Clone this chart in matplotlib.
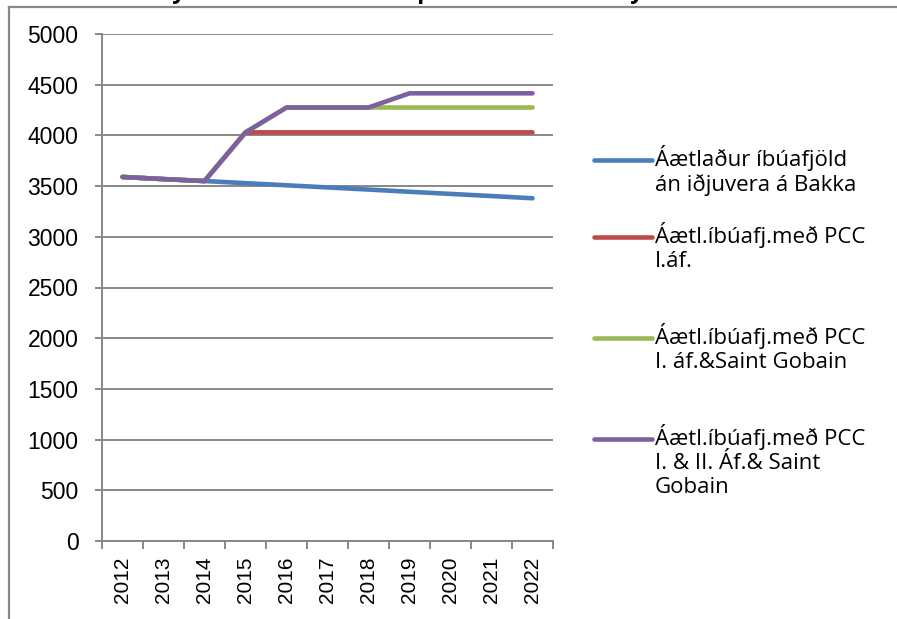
import numpy as np
import matplotlib
matplotlib.use('Agg')
import matplotlib.pyplot as plt
from matplotlib.lines import Line2D

# data
years = ['2012', '2013', '2014', '2015', '2016', '2017',
         '2018', '2019', '2020', '2021', '2022']
base = [3590, 3569, 3550, 3529, 3508, 3487, 3466, 3444, 3423, 3402, 3380]
pcc1 = [3590, 3569, 3550, 4030, 4030, 4030, 4030, 4030, 4030, 4030, 4030]
pcc1_sg = [3590, 3569, 3550, 4030, 4275, 4275, 4275, 4275, 4275, 4275, 4275]
pcc12_sg = [3590, 3569, 3550, 4030, 4275, 4275, 4275, 4415, 4415, 4415, 4415]

labels = ['Áætlaður íbúafjöld\nán iðjuvera á Bakka',
          'Áætl.íbúafj.með PCC\nI.áf.',
          'Áætl.íbúafj.með PCC\nI. áf.&Saint Gobain',
          'Áætl.íbúafj.með PCC\nI. & II. Áf.& Saint\nGobain']
colors = ['#4a7ebb', '#be4b48', '#98b954', '#7d60a0']

W, H = 897, 619
fig = plt.figure(figsize=(W / 100, H / 100), dpi=100)
ax = fig.add_axes([102 / W, 78 / H, 451 / W, 507 / H])

x = np.arange(len(years))
for vals, c in zip([base, pcc1, pcc1_sg, pcc12_sg], colors):
    ax.plot(x, vals, color=c, lw=3.3, solid_capstyle='round',
            solid_joinstyle='round', zorder=3)

grey = '#888888'
ax.set_xlim(-0.5, len(years) - 0.5)
ax.set_ylim(0, 5000)
ax.set_yticks(np.arange(0, 5001, 500))
ax.grid(axis='y', color=grey, lw=1.4, zorder=1)
ax.set_xticks(np.arange(-0.5, len(years), 1.0))
ax.set_xticklabels([])
ax.set_xticks(x, minor=True)
ax.set_xticklabels(years, minor=True, rotation=90,
                   fontsize=15, family='Liberation Sans')
ax.tick_params(axis='x', which='minor', length=0, pad=11)
ax.tick_params(axis='x', which='major', length=6, width=1.4, color=grey,
               direction='out')
ax.tick_params(axis='y', length=5, width=1.4, color=grey, pad=12,
               labelsize=16.5)
for lab in ax.get_yticklabels():
    lab.set_family('Liberation Sans')
for s in ['top', 'right']:
    ax.spines[s].set_visible(False)
for s in ['left', 'bottom']:
    ax.spines[s].set_color(grey)
    ax.spines[s].set_linewidth(1.4)

# legend drawn by hand to follow the original layout
leg_y = [160, 237, 338, 439]
for yy, lab, c in zip(leg_y, labels, colors):
    fig.add_artist(Line2D([594 / W, 652 / W], [1 - yy / H, 1 - yy / H],
                          color=c, lw=3.3, solid_capstyle='round'))
    fig.text(655 / W, 1 - (yy - 15) / H, lab, fontsize=16,
             family='Open Sans', va='top', ha='left', linespacing=1.2)

# outer frame
fig.add_artist(Line2D([9 / W, 9 / W], [0, 1 - 7 / H], color=grey, lw=1.6))
fig.add_artist(Line2D([9 / W, 1], [1 - 7 / H, 1 - 7 / H], color=grey, lw=1.6))

# title, cut off by the top edge in the original
fig.text(150 / W, 1 + 2 / H, 'Mynd 1. Íbúatala skv. spá til ársins 2022 fyrir Húsavík',
         fontsize=17, fontweight='bold', family='Open Sans',
         va='baseline', ha='left')

fig.savefig('out.png', dpi=100)
